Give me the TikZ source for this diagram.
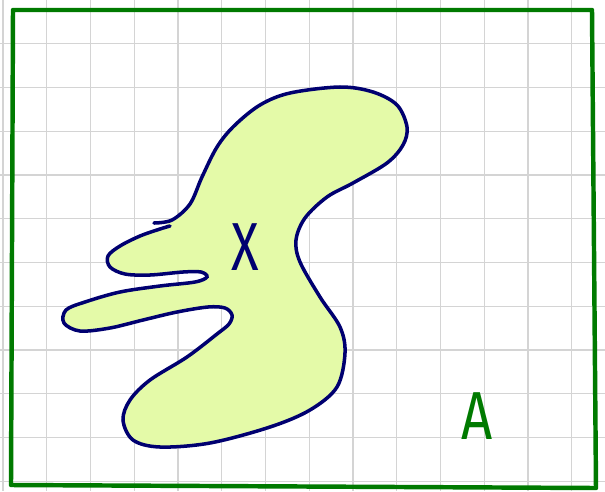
\documentclass[tikz,border=0pt]{standalone}
\usepackage{fontspec}
\setsansfont{Fira Sans}
\usetikzlibrary{positioning,calc}
\definecolor{framegreen}{RGB}{0,122,0}
\definecolor{blobnavy}{RGB}{0,0,112}
\definecolor{blobfill}{RGB}{228,250,168}
\begin{document}
\begin{tikzpicture}[x=0.03cm,y=-0.03cm,
    setline/.style={line width=3.8pt,framegreen,line join=round},
    blobline/.style={line width=3pt,blobnavy,line cap=round},
    handtext/.style={font=\sffamily\fontsize{58}{58}\selectfont}]
    \useasboundingbox (0,0) rectangle (605,491);
    % grid
    \foreach \k in {0,...,13}
        \draw[black!17,line width=0.9pt] ({3+43.75*\k},0) -- ({3+43.75*\k},491);
    \foreach \k in {1,...,11}
        \draw[black!17,line width=0.9pt] (0,{43.75*\k}) -- (605,{43.75*\k});

    % the set A
    \draw[setline] (13,10) -- (592,10) -- (596,488) -- (11,485) -- cycle;
    \node[handtext,framegreen,xscale=0.8] (labelA) at (477,416) {A};

    % the region X
    \fill[blobfill] plot[smooth cycle,tension=0.55] coordinates {
        (172,220) (190,204) (202,177) (217,147) (234,126) (260,105)
        (290,93) (340,87) (373,92) (397,105) (407,127) (403,145)
        (387,163) (353,183) (327,197) (305,218) (296,240) (300,262)
        (320,297) (340,327) (345,353) (337,387) (310,410) (270,427)
        (210,443) (160,447) (133,440) (123,420) (130,400) (150,380)
        (187,357) (217,334) (229,324) (232,315) (225,308) (208,307)
        (177,312) (143,320) (110,328) (80,331) (64,323) (66,310)
        (85,302) (120,292) (160,286) (195,282) (207,277) (201,272)
        (183,272) (150,275) (125,274) (110,267) (108,256) (120,246)
        (140,236) (160,229)};
    \draw[blobline] plot[smooth,tension=0.55] coordinates {
        (154,223) (172,220) (190,204) (202,177) (217,147) (234,126) (260,105)
        (290,93) (340,87) (373,92) (397,105) (407,127) (403,145)
        (387,163) (353,183) (327,197) (305,218) (296,240) (300,262)
        (320,297) (340,327) (345,353) (337,387) (310,410) (270,427)
        (210,443) (160,447) (133,440) (123,420) (130,400) (150,380)
        (187,357) (217,334) (229,324) (232,315) (225,308) (208,307)
        (177,312) (143,320) (110,328) (80,331) (64,323) (66,310)
        (85,302) (120,292) (160,286) (195,282) (207,277) (201,272)
        (183,272) (150,275) (125,274) (110,267) (108,256) (120,246)
        (140,236) (160,229) (170,226)};
    \node[handtext,blobnavy,xscale=0.75] (labelX) at (245,247) {X};
\end{tikzpicture}
\end{document}
